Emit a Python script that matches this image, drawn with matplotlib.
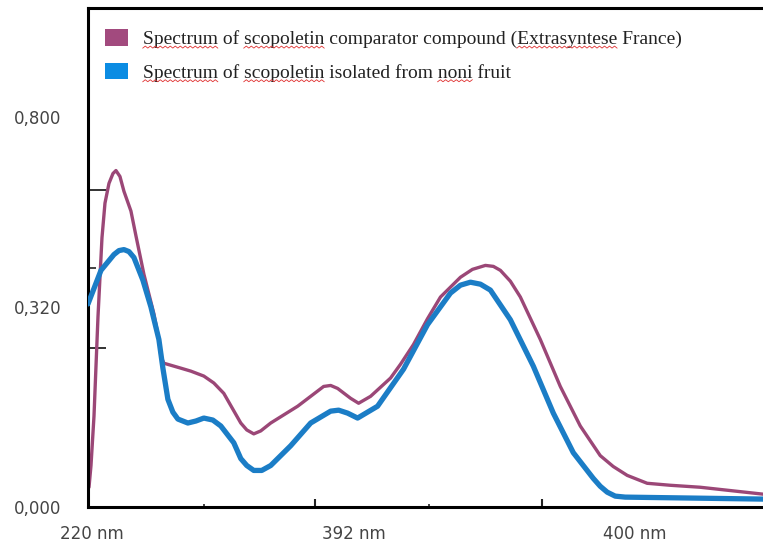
"""Recreate the UV spectrum comparison of scopoletin (comparator vs noni fruit)."""

import matplotlib
matplotlib.use("Agg")
import matplotlib.pyplot as plt
import numpy as np
from matplotlib.lines import Line2D
from matplotlib.patches import Patch

# ---- data (x = position along the scan axis, y = relative absorbance) ----
comparator_x = [1, 3, 6, 8, 10, 12, 14, 17, 21, 25, 28, 32, 36, 43, 48, 56, 66, 71,
                73, 76, 93, 103, 116, 126, 136, 153, 159, 166, 173, 183, 210, 236, 243,
                250, 263, 271, 283, 303, 313, 326, 340, 353, 373, 385, 398, 406, 413,
                423, 433, 453, 473, 493, 513, 526, 540, 560, 583, 613, 676]
comparator_y = [0.030, 0.074, 0.174, 0.275, 0.375, 0.455, 0.535, 0.605, 0.645, 0.665,
                0.671, 0.659, 0.629, 0.589, 0.539, 0.461, 0.381, 0.329, 0.295, 0.281,
                0.271, 0.265, 0.255, 0.241, 0.220, 0.160, 0.146, 0.138, 0.144, 0.160,
                0.194, 0.234, 0.236, 0.230, 0.210, 0.200, 0.214, 0.251, 0.279, 0.319,
                0.371, 0.415, 0.455, 0.471, 0.479, 0.477, 0.469, 0.447, 0.415, 0.329,
                0.234, 0.154, 0.094, 0.072, 0.054, 0.038, 0.034, 0.030, 0.016]

noni_x = [0, 13, 26, 31, 36, 41, 46, 55, 63, 71, 75, 80, 85, 90, 100, 108, 116, 125,
          133, 146, 153, 159, 166, 174, 183, 203, 223, 243, 251, 260, 270, 290, 316,
          340, 363, 373, 383, 393, 403, 423, 446, 466, 486, 506, 513, 520, 528, 538,
          676]
noni_y = [0.401, 0.469, 0.501, 0.509, 0.511, 0.507, 0.495, 0.449, 0.395, 0.329,
          0.271, 0.208, 0.182, 0.168, 0.160, 0.164, 0.170, 0.166, 0.154, 0.120,
          0.088, 0.074, 0.064, 0.064, 0.074, 0.114, 0.160, 0.184, 0.186, 0.180,
          0.170, 0.194, 0.269, 0.359, 0.423, 0.439, 0.445, 0.441, 0.429, 0.369,
          0.275, 0.180, 0.100, 0.048, 0.032, 0.020, 0.012, 0.010, 0.006]

x_label_pos = [4, 266, 548]
x_labels = ["220 nm", "392 nm", "400 nm"]
x_major_marks = [227, 455]
x_minor_marks = [116, 342]

y_label_pos = [0.780, 0.395, -0.010]
y_labels = ["0,800", "0,320", "0,000"]
y_long_marks = [0.631, 0.311]
y_short_marks = [0.473]

series_labels = [
    "Spectrum of scopoletin comparator compound (Extrasyntese France)",
    "Spectrum of scopoletin isolated from noni fruit",
]
# words flagged by the spell checker in the source screenshot
flagged_words = [
    ["Spectrum", "scopoletin", "Extrasyntese"],
    ["Spectrum", "scopoletin", "noni"],
]
PURPLE = "#9b4777"
BLUE = "#1b7dc6"
LEGEND_COLORS = ["#a24a7e", "#0b8ce3"]


def text_width(fig, renderer, s, fontprops):
    tmp = fig.text(0, 0, s, fontproperties=fontprops)
    w = tmp.get_window_extent(renderer).width
    tmp.remove()
    return w


def add_squiggles(fig, legend):
    fig.canvas.draw()
    renderer = fig.canvas.get_renderer()
    to_fig = fig.transFigure.inverted()
    for txt, words in zip(legend.get_texts(), flagged_words):
        bb = txt.get_window_extent(renderer)
        s = txt.get_text()
        props = txt.get_fontproperties()
        for w in words:
            end = bb.x0 + text_width(fig, renderer, s[: s.index(w) + len(w)], props)
            start = end - text_width(fig, renderer, w, props)
            n = max(int((end - start) / 2.5), 2)
            xs = np.linspace(start, end, n + 1)
            ys = bb.y0 + np.where(np.arange(n + 1) % 2 == 0, 0.0, 2.0)
            pts = to_fig.transform(np.column_stack([xs, ys]))
            fig.add_artist(Line2D(pts[:, 0], pts[:, 1], color="#e03030",
                                  lw=0.6, transform=fig.transFigure))


def main() -> None:
    fig = plt.figure(figsize=(7.63, 5.55), dpi=100)
    ax = fig.add_axes([88 / 763, 48 / 555, 675 / 763, 499 / 555])

    ax.plot(comparator_x, comparator_y, color=PURPLE, lw=2.4,
            solid_joinstyle="round", solid_capstyle="round", zorder=2)
    ax.plot(noni_x, noni_y, color=BLUE, lw=3.8,
            solid_joinstyle="round", solid_capstyle="round", zorder=3)

    ax.set_xlim(0, 676)
    ax.set_ylim(0, 1)

    # frame: thick black on top, left and bottom, nothing on the right
    for side in ("top", "left", "bottom"):
        ax.spines[side].set_linewidth(2.2)
        ax.spines[side].set_color("black")
    ax.spines["right"].set_visible(False)

    tick_font = dict(family="DejaVu Sans", size=12, color="#444444")

    # labels (no marks) via major ticks; marks via minor ticks
    ax.set_xticks(x_label_pos)
    ax.set_xticklabels(x_labels, **tick_font)
    ax.set_xticks(x_major_marks, minor=True)
    ax.tick_params(axis="x", which="major", length=0, pad=13)
    ax.tick_params(axis="x", which="minor", direction="in", length=6,
                   width=1.5, color="#222222")

    ax.set_yticks(y_label_pos)
    ax.set_yticklabels(y_labels, **tick_font)
    ax.set_yticks(y_long_marks, minor=True)
    ax.tick_params(axis="y", which="major", length=0, pad=19)
    ax.tick_params(axis="y", which="minor", direction="in", length=13,
                   width=1.3, color="#222222")

    # short extra marks
    sec_x = ax.secondary_xaxis("bottom")
    sec_x.set_xticks(x_minor_marks)
    sec_x.set_xticklabels([])
    sec_x.tick_params(direction="in", length=2.5, width=1.2, color="#222222")
    sec_x.spines["bottom"].set_visible(False)

    sec_y = ax.secondary_yaxis("left")
    sec_y.set_yticks(y_short_marks)
    sec_y.set_yticklabels([])
    sec_y.tick_params(direction="in", length=6, width=1.2, color="#222222")
    sec_y.spines["left"].set_visible(False)

    handles = [Patch(facecolor=c, edgecolor="none") for c in LEGEND_COLORS]
    leg = ax.legend(handles, series_labels, loc="upper left",
                    bbox_to_anchor=(0.025, 0.958), frameon=False,
                    prop=dict(family="Liberation Serif", size=14),
                    handlelength=1.2, handleheight=0.95, handletextpad=0.75,
                    labelspacing=0.75, borderpad=0, borderaxespad=0,
                    labelcolor="#222222")

    add_squiggles(fig, leg)

    fig.savefig("out.png", dpi=100)
    plt.close(fig)


if __name__ == "__main__":
    main()
